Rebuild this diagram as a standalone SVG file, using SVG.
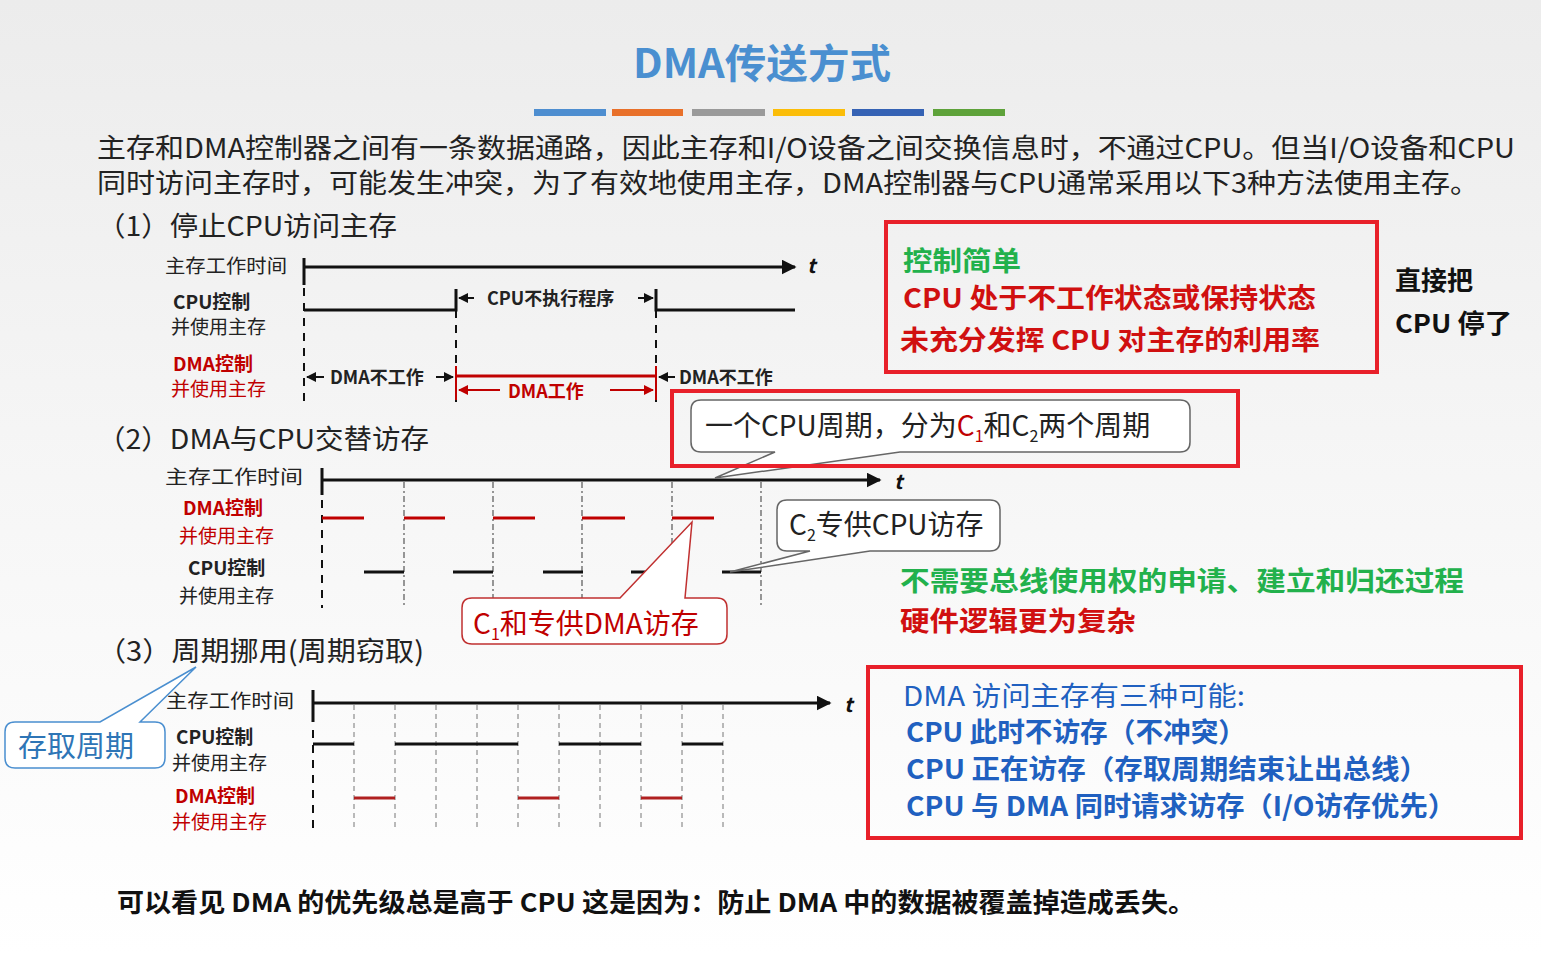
<svg xmlns="http://www.w3.org/2000/svg" width="1541" height="954" viewBox="0 0 1541 954">
<defs>
<linearGradient id="bg" x1="0" y1="0" x2="0" y2="1"><stop offset="0" stop-color="#ececec"/><stop offset="0.5" stop-color="#f6f6f6"/><stop offset="1" stop-color="#ffffff"/></linearGradient>
<marker id="ah" viewBox="0 0 10 10" refX="9" refY="5" markerWidth="5" markerHeight="5" orient="auto"><path d="M0,0 L10,5 L0,10 z" fill="#111"/></marker>
<marker id="ar" viewBox="0 0 10 10" refX="9" refY="5" markerWidth="5" markerHeight="5" orient="auto"><path d="M0,0 L10,5 L0,10 z" fill="#c00000"/></marker>
<style>
text{font-family:"Noto Sans CJK SC","Open Sans",sans-serif;}
.t{font-size:27px;fill:#222}
.lb{font-size:19px;fill:#222}
.lr{font-size:19px;fill:#c00000}
.ax{stroke:#111;stroke-width:3;fill:none}
.k{stroke:#111;stroke-width:3;fill:none}
.r{stroke:#c00000;stroke-width:3;fill:none}
.dk{stroke:#111;stroke-width:2;stroke-dasharray:8,7;fill:none}
.dg{stroke:#777;stroke-width:1;stroke-dasharray:5,4;fill:none}
.dd{stroke:#555;stroke-width:1.2;stroke-dasharray:6,3,2,3;fill:none}
.box{stroke:#e8202a;stroke-width:4;fill:none}
.co{fill:#fff;stroke:#666;stroke-width:1.5}
.it{font-size:20px;font-style:italic;font-weight:bold;fill:#111}
</style>
</defs>
<rect width="1541" height="954" fill="url(#bg)"/>
<g id="title">
<text x="762" y="78" text-anchor="middle" font-size="40" font-weight="bold" fill="#4a8fd0" textLength="258" lengthAdjust="spacingAndGlyphs">DMA传送方式</text>
<rect x="534" y="109" width="72" height="7" fill="#4e8ed0"/>
<rect x="612" y="109" width="71" height="7" fill="#e8702a"/>
<rect x="692" y="109" width="73" height="7" fill="#9a9a9a"/>
<rect x="773" y="109" width="72" height="7" fill="#fbbd08"/>
<rect x="852" y="109" width="72" height="7" fill="#3562b4"/>
<rect x="933" y="109" width="72" height="7" fill="#5ea23a"/>
</g>
<g id="intro">
<text class="t" x="97" y="158" textLength="1418" lengthAdjust="spacingAndGlyphs">主存和DMA控制器之间有一条数据通路，因此主存和I/O设备之间交换信息时，不通过CPU。但当I/O设备和CPU</text>
<text class="t" x="97" y="193" textLength="1382" lengthAdjust="spacingAndGlyphs">同时访问主存时，可能发生冲突，为了有效地使用主存，DMA控制器与CPU通常采用以下3种方法使用主存。</text>
<text class="t" x="97" y="236" textLength="300" lengthAdjust="spacingAndGlyphs">（1）停止CPU访问主存</text>
<text class="t" x="97" y="449" textLength="332" lengthAdjust="spacingAndGlyphs">（2）DMA与CPU交替访存</text>
<text class="t" x="97" y="661" textLength="327" lengthAdjust="spacingAndGlyphs">（3）周期挪用(周期窃取)</text>
</g>
<g id="sec1">
<text class="lb" x="165" y="273" textLength="122" lengthAdjust="spacingAndGlyphs">主存工作时间</text>
<text class="lb" x="173" y="309" font-weight="bold">CPU控制</text>
<text class="lb" x="171" y="334">并使用主存</text>
<text class="lr" x="173" y="371" font-weight="bold">DMA控制</text>
<text class="lr" x="171" y="396">并使用主存</text>
<line class="k" x1="304" y1="258" x2="304" y2="285"/>
<line class="ax" x1="304" y1="267" x2="795" y2="267" marker-end="url(#ah)"/>
<text class="it" x="807" y="273">t</text>
<line class="dk" x1="304" y1="288" x2="304" y2="402"/>
<line class="dk" x1="456" y1="310" x2="456" y2="402"/>
<line class="dk" x1="656" y1="310" x2="656" y2="402"/>
<path class="k" d="M304,310 H456 V289"/>
<path class="k" d="M656,289 V310 H795"/>
<line stroke="#111" stroke-width="2" x1="474" y1="298" x2="459" y2="298" marker-end="url(#ah)"/>
<text x="487" y="305" font-size="18" font-weight="bold" fill="#222">CPU不执行程序</text>
<line stroke="#111" stroke-width="2" x1="638" y1="298" x2="653" y2="298" marker-end="url(#ah)"/>
<line stroke="#111" stroke-width="2" x1="324" y1="377" x2="307" y2="377" marker-end="url(#ah)"/>
<text x="330" y="384" font-size="18" font-weight="bold" fill="#222">DMA不工作</text>
<line stroke="#111" stroke-width="2" x1="436" y1="377" x2="453" y2="377" marker-end="url(#ah)"/>
<line class="r" x1="456" y1="376" x2="656" y2="376"/>
<line stroke="#c00000" stroke-width="2" x1="456" y1="366" x2="456" y2="400"/>
<line stroke="#c00000" stroke-width="2" x1="656" y1="366" x2="656" y2="400"/>
<line stroke="#c00000" stroke-width="2" x1="500" y1="390" x2="459" y2="390" marker-end="url(#ar)"/>
<text x="508" y="398" font-size="18" fill="#c00000" font-weight="bold">DMA工作</text>
<line stroke="#c00000" stroke-width="2" x1="610" y1="390" x2="653" y2="390" marker-end="url(#ar)"/>
<line stroke="#111" stroke-width="2" x1="675" y1="377" x2="659" y2="377" marker-end="url(#ah)"/>
<text x="679" y="384" font-size="18" font-weight="bold" fill="#222">DMA不工作</text>
</g>
<g id="sec2">
<text class="lb" x="165" y="484" textLength="138" lengthAdjust="spacingAndGlyphs">主存工作时间</text>
<text class="lr" x="183" y="515" font-weight="bold">DMA控制</text>
<text class="lr" x="179" y="543">并使用主存</text>
<text class="lb" x="188" y="575" font-weight="bold">CPU控制</text>
<text class="lb" x="179" y="603">并使用主存</text>
<line class="k" x1="322" y1="468" x2="322" y2="495"/>
<line class="ax" x1="322" y1="480" x2="880" y2="480" marker-end="url(#ah)"/>
<text class="it" x="894" y="489">t</text>
<line class="dk" x1="322" y1="500" x2="322" y2="608"/>
<g class="dd"><line x1="404" y1="482" x2="404" y2="606"/><line x1="493" y1="482" x2="493" y2="606"/><line x1="582" y1="482" x2="582" y2="606"/><line x1="672" y1="482" x2="672" y2="606"/><line x1="761" y1="482" x2="761" y2="606"/></g>
<g class="r"><line x1="322" y1="518" x2="364" y2="518"/><line x1="404" y1="518" x2="445" y2="518"/><line x1="493" y1="518" x2="535" y2="518"/><line x1="582" y1="518" x2="625" y2="518"/><line x1="672" y1="518" x2="714" y2="518"/></g>
<g class="k"><line x1="364" y1="572" x2="404" y2="572"/><line x1="453" y1="572" x2="493" y2="572"/><line x1="543" y1="572" x2="583" y2="572"/><line x1="631" y1="572" x2="672" y2="572"/><line x1="722" y1="572" x2="761" y2="572"/></g>
</g>
<g id="sec3">
<text class="lb" x="166" y="708" textLength="128" lengthAdjust="spacingAndGlyphs">主存工作时间</text>
<text class="lb" x="176" y="744" font-weight="bold">CPU控制</text>
<text class="lb" x="172" y="770">并使用主存</text>
<text class="lr" x="175" y="803" font-weight="bold">DMA控制</text>
<text class="lr" x="172" y="829">并使用主存</text>
<line class="k" x1="313" y1="690" x2="313" y2="722"/>
<line class="ax" x1="313" y1="703" x2="830" y2="703" marker-end="url(#ah)"/>
<text class="it" x="844" y="712">t</text>
<line class="dk" x1="313" y1="730" x2="313" y2="832"/>
<g class="dg"><line x1="354" y1="705" x2="354" y2="830"/><line x1="395" y1="705" x2="395" y2="830"/><line x1="436" y1="705" x2="436" y2="830"/><line x1="477" y1="705" x2="477" y2="830"/><line x1="518" y1="705" x2="518" y2="830"/><line x1="559" y1="705" x2="559" y2="830"/><line x1="600" y1="705" x2="600" y2="830"/><line x1="641" y1="705" x2="641" y2="830"/><line x1="682" y1="705" x2="682" y2="830"/><line x1="723" y1="705" x2="723" y2="830"/></g>
<g class="k"><line x1="313" y1="744" x2="354" y2="744"/><line x1="395" y1="744" x2="518" y2="744"/><line x1="559" y1="744" x2="641" y2="744"/><line x1="682" y1="744" x2="723" y2="744"/></g>
<g stroke="#b02020" stroke-width="3"><line x1="354" y1="798" x2="395" y2="798"/><line x1="518" y1="798" x2="559" y2="798"/><line x1="641" y1="798" x2="682" y2="798"/></g>
</g>
<g id="callouts">
<path class="co" d="M701,400 H1180 Q1190,400 1190,410 V442 Q1190,452 1180,452 H900 L715,478 L775,452 H701 Q691,452 691,442 V410 Q691,400 701,400 Z"/>
<text x="705" y="436" font-size="28" fill="#222">一个CPU周期，分为<tspan fill="#c00000">C<tspan font-size="16" dy="6">1</tspan></tspan><tspan dy="-6">和C</tspan><tspan font-size="16" dy="6">2</tspan><tspan dy="-6">两个周期</tspan></text>
<path class="co" d="M787,500 H990 Q1000,500 1000,510 V541 Q1000,551 990,551 H870 L730,572 L810,551 H787 Q777,551 777,541 V510 Q777,500 787,500 Z"/>
<text x="789" y="535" font-size="28" fill="#222">C<tspan font-size="16" dy="6">2</tspan><tspan dy="-6">专供CPU访存</tspan></text>
<path fill="#fff" stroke="#c03030" stroke-width="1.5" d="M472,598 H620 L692,522 L685,598 H717 Q727,598 727,608 V634 Q727,644 717,644 H472 Q462,644 462,634 V608 Q462,598 472,598 Z"/>
<text x="473" y="634" font-size="28" fill="#c00000">C<tspan font-size="16" dy="6">1</tspan><tspan dy="-6">和专供DMA访存</tspan></text>
<path fill="#fff" stroke="#4a8fd0" stroke-width="1.5" d="M15,722 H100 L196,667 L140,722 H155 Q165,722 165,732 V758 Q165,768 155,768 H15 Q5,768 5,758 V732 Q5,722 15,722 Z"/>
<text x="18" y="757" font-size="29" fill="#2e75b6">存取周期</text>
</g>
<g id="notes">
<rect class="box" x="886" y="222" width="491" height="150"/>
<text x="903" y="271" font-size="27" font-weight="bold" fill="#22b14c" textLength="118" lengthAdjust="spacingAndGlyphs">控制简单</text>
<text x="903" y="308" font-size="27" font-weight="bold" fill="#d01010" textLength="413" lengthAdjust="spacingAndGlyphs">CPU 处于不工作状态或保持状态</text>
<text x="900" y="350" font-size="27" font-weight="bold" fill="#d01010" textLength="420" lengthAdjust="spacingAndGlyphs">未充分发挥 CPU 对主存的利用率</text>
<text x="1395" y="290" font-size="26" font-weight="bold" fill="#111">直接把</text>
<text x="1395" y="333" font-size="26" font-weight="bold" fill="#111" textLength="117" lengthAdjust="spacingAndGlyphs">CPU 停了</text>
<rect class="box" x="672" y="391" width="566" height="75"/>
<text x="900" y="591" font-size="27" font-weight="bold" fill="#22b14c" textLength="564" lengthAdjust="spacingAndGlyphs">不需要总线使用权的申请、建立和归还过程</text>
<text x="900" y="631" font-size="27" font-weight="bold" fill="#d01010" textLength="236" lengthAdjust="spacingAndGlyphs">硬件逻辑更为复杂</text>
<rect class="box" x="868" y="667" width="653" height="171"/>
<text x="903" y="706" font-size="27" fill="#2060c0" textLength="342" lengthAdjust="spacingAndGlyphs">DMA 访问主存有三种可能:</text>
<text x="906" y="742" font-size="27" font-weight="bold" fill="#2060c0" textLength="340" lengthAdjust="spacingAndGlyphs">CPU 此时不访存（不冲突）</text>
<text x="906" y="779" font-size="27" font-weight="bold" fill="#2060c0" textLength="522" lengthAdjust="spacingAndGlyphs">CPU 正在访存（存取周期结束让出总线）</text>
<text x="906" y="816" font-size="27" font-weight="bold" fill="#2060c0" textLength="550" lengthAdjust="spacingAndGlyphs">CPU 与 DMA 同时请求访存（I/O访存优先）</text>
<text x="117" y="912" font-size="26" font-weight="bold" fill="#111" textLength="1078" lengthAdjust="spacingAndGlyphs">可以看见 DMA 的优先级总是高于 CPU 这是因为：防止 DMA 中的数据被覆盖掉造成丢失。</text>
</g>
</svg>
